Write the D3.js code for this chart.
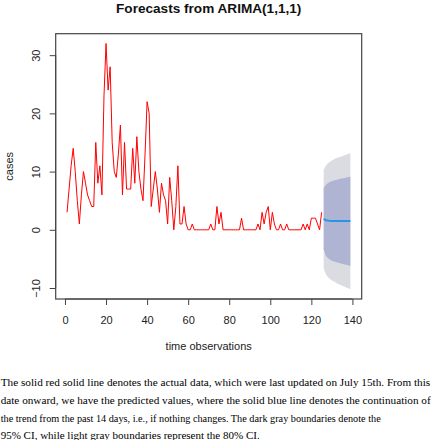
<!DOCTYPE html>
<html>
<head>
<meta charset="utf-8">
<script src="https://cdn.jsdelivr.net/npm/d3@7"></script>
<style>
  html, body { margin: 0; padding: 0; background: #fff; }
  svg { display: block; }
</style>
</head>
<body>
<svg id="chart" width="437" height="440"></svg>
<script>
// ---- data ----
const actualCases = [
  3, 7, 11, 14, 10, 5, 1, 6, 10, 8,
  6, 5, 4, 4, 15, 8, 11, 6, 23, 32,
  24, 28, 15, 10, 9, 13, 18, 6, 15, 7,
  7, 7, 14, 8, 16, 10, 7, 5, 13, 22,
  20, 4, 7, 10, 7, 3, 8, 6, 5, 1,
  9, 5, 0, 4, 11, 1, 1, 4, 1, 0,
  0, 1, 0, 0, 0, 0, 0, 0, 0, 0,
  1, 0, 0, 4, 1, 3, 0, 0, 0, 0,
  0, 0, 0, 0, 0, 2, 0, 0, 0, 0,
  0, 0, 0, 1, 0, 3, 1, 3, 4, 0,
  3, 1, 0, 0, 1, 0, 0, 1, 0, 0,
  0, 0, 0, 0, 0, 1, 0, 1, 0, 2,
  2, 2, 1, 0, 3
];
const forecastMean = [1.9, 1.65, 1.58, 1.55, 1.53, 1.52, 1.51, 1.5, 1.5, 1.5, 1.5, 1.5, 1.5, 1.5];
const upper80 = [7.2, 7.7, 8.0, 8.2, 8.35, 8.45, 8.55, 8.65, 8.75, 8.8, 8.9, 8.95, 9.05, 9.1];
const lower80 = [-3.4, -4.4, -4.85, -5.1, -5.3, -5.45, -5.55, -5.65, -5.75, -5.85, -5.95, -6.0, -6.1, -6.2];
const upper95 = [10.3, 11.0, 11.4, 11.7, 11.9, 12.1, 12.3, 12.4, 12.5, 12.65, 12.8, 12.9, 13.05, 13.2];
const lower95 = [-6.6, -7.6, -8.1, -8.4, -8.7, -8.9, -9.1, -9.3, -9.45, -9.6, -9.75, -9.9, -10.05, -10.2];
const xTickValues = [0, 20, 40, 60, 80, 100, 120, 140];
const yTickValues = [-10, 0, 10, 20, 30];
const titleText = "Forecasts from ARIMA(1,1,1)";
const xTitle = "time observations";
const yTitle = "cases";
const captionLines = [
  "The solid red solid line denotes the actual data, which were last updated on July 15th. From this",
  "date onward, we have the predicted values, where the solid blue line denotes the continuation of",
  "the trend from the past 14 days, i.e., if nothing changes. The dark gray boundaries denote the",
  "95% CI, while light gray boundaries represent the 80% CI."
];

// ---- derived tables ----
const actual = actualCases.map((v, i) => ({ t: i + 1, v }));
const nA = actualCases.length;
const fc = forecastMean.map((m, i) => ({
  t: nA + 1 + i, m, lo80: lower80[i], hi80: upper80[i], lo95: lower95[i], hi95: upper95[i]
}));

// ---- layout ----
const plot = { left: 55.7, right: 361.7, top: 33.7, bottom: 299 };
const svg = d3.select("#chart");
const FONT = "'Liberation Sans', Arial, Helvetica, sans-serif";

// R-style 4% expansion of data range
const xMin = 1, xMax = nA + forecastMean.length;
const yAll = actualCases.concat(upper95, lower95);
const yMin = d3.min(yAll), yMax = d3.max(yAll);
const xPad = (xMax - xMin) * 0.04, yPad = (yMax - yMin) * 0.04;

const x = d3.scaleLinear().domain([xMin - xPad, xMax + xPad]).range([plot.left, plot.right]);
const y = d3.scaleLinear().domain([yMin - yPad, yMax + yPad]).range([plot.bottom, plot.top]);

// clip
svg.append("defs").append("clipPath").attr("id", "clip")
  .append("rect").attr("x", plot.left).attr("y", plot.top)
  .attr("width", plot.right - plot.left).attr("height", plot.bottom - plot.top);

const g = svg.append("g").attr("clip-path", "url(#clip)");

// bands
const area95 = d3.area().x(d => x(d.t)).y0(d => y(d.lo95)).y1(d => y(d.hi95));
const area80 = d3.area().x(d => x(d.t)).y0(d => y(d.lo80)).y1(d => y(d.hi80));
g.append("path").datum(fc).attr("d", area95).attr("fill", "#dbdbe2");
g.append("path").datum(fc).attr("d", area80).attr("fill", "#afb4d2");

// actual line
const line = d3.line().x(d => x(d.t)).y(d => y(d.v));
g.append("path").datum(actual).attr("d", line)
  .attr("fill", "none").attr("stroke", "#ff0000").attr("stroke-width", 1)
  .attr("stroke-linejoin", "round");

// forecast mean
const fline = d3.line().x(d => x(d.t)).y(d => y(d.m));
g.append("path").datum(fc).attr("d", fline)
  .attr("fill", "none").attr("stroke", "#2297E6").attr("stroke-width", 2);

// axes (R style: ticks outward from the box)
const xAxis = d3.axisBottom(x).tickValues(xTickValues).tickSize(6).tickSizeOuter(0);
const gx = svg.append("g").attr("transform", `translate(0,${plot.bottom})`).call(xAxis);
gx.select(".domain").attr("d", `M${x(xTickValues[0])},0H${x(xTickValues[xTickValues.length-1])}`)
  .attr("stroke", "#444");
gx.selectAll(".tick line").attr("stroke", "#444");
gx.selectAll(".tick text").attr("font-family", FONT).attr("font-size", 11).attr("fill", "#222")
  .attr("dy", "0.71em").attr("y", 17);

const yAxis = d3.axisLeft(y).tickValues(yTickValues).tickSize(6).tickSizeOuter(0);
const gy = svg.append("g").attr("transform", `translate(${plot.left},0)`).call(yAxis);
gy.select(".domain").attr("d", `M0,${y(yTickValues[0])}V${y(yTickValues[yTickValues.length-1])}`)
  .attr("stroke", "#444");
gy.selectAll(".tick line").attr("stroke", "#444");
gy.selectAll(".tick text").attr("font-family", FONT).attr("font-size", 11).attr("fill", "#222")
  .attr("x", null).attr("dy", null)
  .attr("text-anchor", "middle")
  .attr("transform", "translate(-15.5,0) rotate(-90)");

// box
svg.append("rect").attr("x", plot.left).attr("y", plot.top)
  .attr("width", plot.right - plot.left).attr("height", plot.bottom - plot.top)
  .attr("fill", "none").attr("stroke", "#444").attr("stroke-width", 1.2);

// titles
const cx = (plot.left + plot.right) / 2;
svg.append("text").attr("x", cx).attr("y", 12.6).attr("text-anchor", "middle")
  .attr("font-family", FONT).attr("font-weight", "bold").attr("font-size", 13.6)
  .attr("fill", "#111").text(titleText);
svg.append("text").attr("x", cx).attr("y", 350).attr("text-anchor", "middle")
  .attr("font-family", FONT).attr("font-size", 11).attr("fill", "#222").text(xTitle);
svg.append("text").attr("transform", `translate(13,${(plot.top + plot.bottom) / 2}) rotate(-90)`)
  .attr("text-anchor", "middle")
  .attr("font-family", FONT).attr("font-size", 11).attr("fill", "#222").text(yTitle);

// caption
const SERIF = "'Liberation Serif', 'Times New Roman', Times, serif";
const baselines = [385.8, 404, 422, 439.3];
const lineWidths = [429.5, 430, 380, 259];
const cap = svg.append("g");
captionLines.forEach((s, i) => {
  cap.append("text").attr("x", 0.7).attr("y", baselines[i])
    .attr("font-family", SERIF).attr("font-size", 11.2).attr("fill", "#000")
    .attr("textLength", lineWidths[i]).attr("lengthAdjust", "spacingAndGlyphs")
    .text(s);
});
</script>
</body>
</html>
